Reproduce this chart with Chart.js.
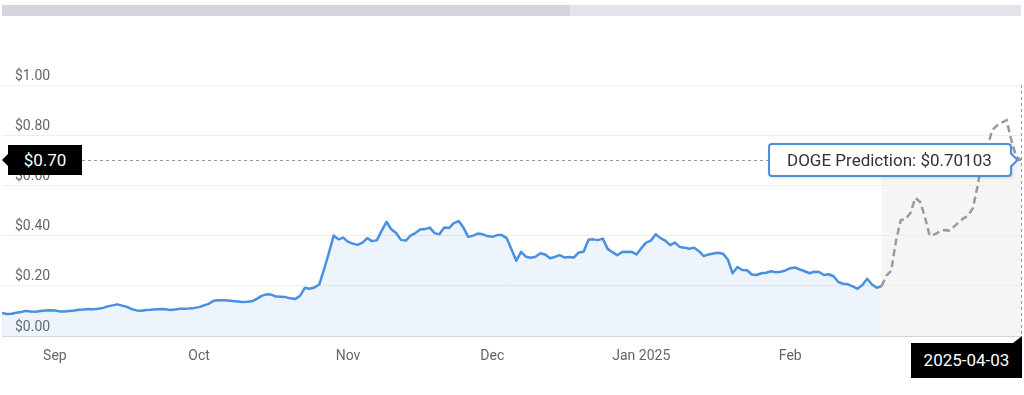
<!DOCTYPE html>
<html>
<head>
<meta charset="utf-8">
<script src="https://cdn.jsdelivr.net/npm/chart.js@4.4.1/dist/chart.umd.min.js"></script>
<style>
  html, body { margin: 0; padding: 0; background: #fff; }
  body { width: 1024px; height: 395px; overflow: hidden; font-family: Roboto, sans-serif; }
  #wrap { position: relative; width: 1024px; height: 395px; }
  #chart { position: absolute; left: 0; top: 0; }
  .bar { position: absolute; top: 5px; height: 11px; }
  .tag { position: absolute; background: #000; color: #fff; font-size: 17px; text-align: center; white-space: nowrap; }
  #yTag { width: 74px; height: 30px; line-height: 30px; }
  #yTag::before { content: ''; position: absolute; left: -6px; top: 9px; border-top: 6px solid transparent; border-bottom: 6px solid transparent; border-right: 6px solid #000; }
  #xTag { width: 111px; height: 35px; line-height: 35px; }
  #xTag::before { content: ''; position: absolute; right: 0; top: -7px; border-left: 9px solid transparent; border-bottom: 7px solid #000; }
  #tip { position: absolute; background: #fff; border: 2px solid #4a90e2; border-radius: 4px; color: #333; font-size: 17px; height: 30px; line-height: 30px; padding: 0 18px 0 17px; white-space: nowrap; box-shadow: 1px 1px 3px rgba(0,0,0,0.12); }
  #tip::before { content: ''; position: absolute; right: -9px; top: 7px; border-top: 8px solid transparent; border-bottom: 8px solid transparent; border-left: 8px solid #4a90e2; }
  #tip::after { content: ''; position: absolute; right: -6px; top: 9px; border-top: 6px solid transparent; border-bottom: 6px solid transparent; border-left: 6px solid #fff; }
</style>
</head>
<body>
<div id="wrap">
  <div class="bar" style="left:2px; width:568px; background:#d4d5da;"></div>
  <div class="bar" style="left:570px; width:451px; background:#e4e5ea;"></div>
  <canvas id="chart" width="1024" height="395"></canvas>
  <div id="yTag" class="tag"></div>
  <div id="tip"></div>
  <div id="xTag" class="tag"></div>
</div>
<script>
// daily closes from 2024-08-21 (slot 0) to 2025-02-20 (slot 183)
const histValues = [
  0.092, 0.088, 0.089, 0.093, 0.096, 0.100, 0.098, 0.097, 0.100, 0.102,
  0.103, 0.102, 0.098, 0.098, 0.100, 0.102, 0.105, 0.106, 0.108, 0.107,
  0.109, 0.112, 0.118, 0.122, 0.126, 0.121, 0.116, 0.107, 0.102, 0.101,
  0.104, 0.105, 0.107, 0.108, 0.107, 0.104, 0.106, 0.109, 0.109, 0.110,
  0.112, 0.115, 0.122, 0.128, 0.140, 0.142, 0.142, 0.141, 0.139, 0.137,
  0.135, 0.136, 0.138, 0.148, 0.160, 0.166, 0.165, 0.157, 0.156, 0.155,
  0.150, 0.147, 0.160, 0.192, 0.188, 0.193, 0.205, 0.265, 0.330, 0.400,
  0.385, 0.392, 0.375, 0.368, 0.363, 0.372, 0.390, 0.378, 0.382, 0.420,
  0.455, 0.425, 0.410, 0.383, 0.380, 0.400, 0.410, 0.424, 0.426, 0.432,
  0.410, 0.405, 0.432, 0.430, 0.450, 0.458, 0.432, 0.395, 0.400, 0.408,
  0.405, 0.398, 0.395, 0.402, 0.402, 0.390, 0.345, 0.300, 0.335, 0.316,
  0.312, 0.316, 0.330, 0.325, 0.310, 0.315, 0.322, 0.313, 0.315, 0.313,
  0.333, 0.336, 0.383, 0.385, 0.382, 0.388, 0.347, 0.334, 0.322, 0.335,
  0.336, 0.335, 0.325, 0.350, 0.372, 0.380, 0.405, 0.390, 0.380, 0.362,
  0.372, 0.355, 0.352, 0.348, 0.352, 0.338, 0.318, 0.325, 0.329, 0.332,
  0.328, 0.305, 0.250, 0.275, 0.263, 0.262, 0.245, 0.243, 0.250, 0.252,
  0.258, 0.254, 0.256, 0.261, 0.270, 0.273, 0.265, 0.258, 0.250, 0.256,
  0.255, 0.243, 0.246, 0.238, 0.215, 0.208, 0.206, 0.198, 0.188, 0.203,
  0.228, 0.205, 0.192, 0.199
];

// prediction, one value per slot starting at the last close
const predValues = [
  0.199, 0.240, 0.260, 0.380, 0.462, 0.466, 0.490, 0.550, 0.535, 0.475,
  0.400, 0.405, 0.415, 0.422, 0.420, 0.435, 0.452, 0.468, 0.480, 0.510,
  0.600, 0.710, 0.750, 0.820, 0.838, 0.850, 0.860, 0.780, 0.714, 0.70103
];
const predEndDate = '2025-04-03';

const monthTicks = [11, 41, 72, 102, 133, 164];
const monthLabels = ['Sep', 'Oct', 'Nov', 'Dec', 'Jan 2025', 'Feb'];
const yTicks = [0, 0.2, 0.4, 0.6, 0.8, 1.0];

const predStart = histValues.length - 1;
const histData = histValues.map((v, i) => ({ x: i, y: v }));
const predData = predValues.map((v, i) => ({ x: predStart + i, y: v }));
const lastSlot = predStart + predValues.length - 1;
const lastValue = predValues[predValues.length - 1];

const bandPlugin = {
  id: 'predBand',
  beforeDraw(chart) {
    const { ctx, chartArea, scales: { x, y } } = chart;
    const x1 = x.getPixelForValue(predStart);
    const x2 = x.getPixelForValue(lastSlot);
    const top = y.getPixelForValue(0.7);
    ctx.save();
    ctx.fillStyle = '#f5f5f5';
    ctx.fillRect(x1, top, x2 - x1, chartArea.bottom - top);
    ctx.restore();
  }
};

const markerPlugin = {
  id: 'markers',
  afterDraw(chart) {
    const { ctx, chartArea, scales: { x, y } } = chart;
    const px = x.getPixelForValue(lastSlot);
    const py = y.getPixelForValue(lastValue);

    const yTag = document.getElementById('yTag');
    yTag.textContent = '$' + lastValue.toFixed(2);
    yTag.style.left = '8px';
    yTag.style.top = (py - 15) + 'px';

    const tip = document.getElementById('tip');
    tip.textContent = 'DOGE Prediction: $' + lastValue;
    tip.style.left = (px - 9 - tip.offsetWidth) + 'px';
    tip.style.top = (py - tip.offsetHeight / 2) + 'px';

    const xTag = document.getElementById('xTag');
    xTag.textContent = predEndDate;
    xTag.style.left = (px + 1 - xTag.offsetWidth) + 'px';
    xTag.style.top = (chartArea.bottom + 7) + 'px';

    ctx.save();
    ctx.strokeStyle = '#9a9a9a';
    ctx.lineWidth = 1;
    ctx.setLineDash([3, 3]);
    ctx.beginPath();
    ctx.moveTo(8 + yTag.offsetWidth, Math.round(py) + 0.5);
    ctx.lineTo(px, Math.round(py) + 0.5);
    ctx.moveTo(Math.round(px) + 0.5, chartArea.top);
    ctx.lineTo(Math.round(px) + 0.5, chartArea.bottom + 6);
    ctx.stroke();
    ctx.restore();
  }
};

new Chart(document.getElementById('chart'), {
  type: 'line',
  data: {
    datasets: [{
      label: 'DOGE',
      data: histData,
      borderColor: '#4a90e2',
      backgroundColor: 'rgba(74, 144, 226, 0.1)',
      borderWidth: 2.5,
      borderJoinStyle: 'round',
      fill: 'origin',
      pointRadius: 0,
      tension: 0
    }, {
      label: 'DOGE Prediction',
      data: predData,
      borderColor: '#9a9a9a',
      borderWidth: 2.5,
      borderDash: [7, 4],
      fill: false,
      pointRadius: 0,
      tension: 0
    }]
  },
  options: {
    responsive: false,
    animation: false,
    layout: { padding: { left: 2, right: 3, top: 85, bottom: 0 } },
    plugins: {
      legend: { display: false },
      tooltip: { enabled: false }
    },
    scales: {
      x: {
        type: 'linear',
        min: 0,
        max: lastSlot,
        grid: { display: false, drawTicks: false },
        border: { display: true, color: '#ccd6eb' },
        afterBuildTicks: (s) => { s.ticks = monthTicks.map(v => ({ value: v })); },
        afterFit: (s) => { s.height = 59; },
        ticks: {
          autoSkip: false,
          maxRotation: 0,
          padding: 12,
          color: '#666',
          font: { family: 'Roboto', size: 14 },
          callback: (v) => monthLabels[monthTicks.indexOf(v)]
        }
      },
      y: {
        min: 0,
        max: 1,
        border: { display: false },
        grid: { color: '#eeeeee', drawTicks: false },
        afterBuildTicks: (s) => { s.ticks = yTicks.map(v => ({ value: v })); },
        afterFit: (s) => { s.width = 0; },
        ticks: {
          mirror: true,
          padding: 13,
          labelOffset: -9,
          color: '#666',
          font: { family: 'Roboto', size: 14 },
          callback: (v) => '$' + v.toFixed(2)
        }
      }
    }
  },
  plugins: [bandPlugin, markerPlugin]
});
</script>
</body>
</html>
